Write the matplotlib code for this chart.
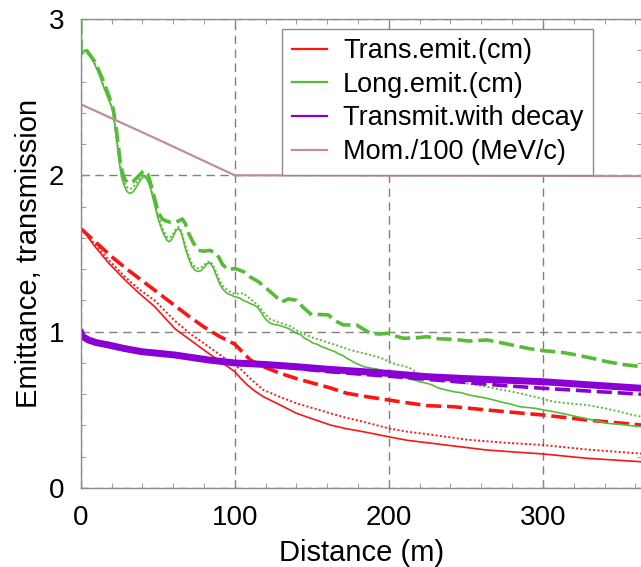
import matplotlib
matplotlib.use("Agg")
import matplotlib.pyplot as plt
from matplotlib.lines import Line2D
import numpy as np

plt.rcParams['font.family'] = ['Liberation Sans', 'DejaVu Sans']

# ---- series (distance in m, value) ----
trans_solid_x = [0, 2, 5, 9.3, 18, 28.8, 38, 48, 61, 72, 82.9, 92, 100, 104, 108, 113, 118.6, 130, 140, 151, 162, 172, 183.5, 199.7, 212, 224.7, 242, 263.6, 282, 300, 328.6, 364]
trans_solid_y = [1.66, 1.65, 1.60, 1.544, 1.44, 1.33, 1.245, 1.16, 1.02, 0.94, 0.862, 0.80, 0.744, 0.70, 0.66, 0.62, 0.584, 0.528, 0.478, 0.44, 0.403, 0.38, 0.36, 0.328, 0.305, 0.29, 0.269, 0.243, 0.23, 0.218, 0.19, 0.168]

trans_dot_x = [0, 9.3, 18, 28.8, 38, 48, 61, 72, 83, 92, 99.5, 104.5, 110, 118.6, 130, 140, 151, 162, 172, 183.5, 199.7, 212, 224.7, 250, 275, 300, 330, 364]
trans_dot_y = [1.66, 1.56, 1.46, 1.35, 1.27, 1.20, 1.07, 0.98, 0.904, 0.84, 0.787, 0.755, 0.70, 0.627, 0.58, 0.542, 0.51, 0.478, 0.45, 0.424, 0.382, 0.36, 0.345, 0.31, 0.29, 0.275, 0.245, 0.22]

trans_dash_x = [0, 10, 20, 30, 40, 50, 60, 70, 80, 90, 100, 105, 110, 120, 129.4, 140, 151, 162, 172.7, 185, 199.7, 212, 224.7, 242, 263.6, 285, 300, 328.6, 345, 364]
trans_dash_y = [1.66, 1.57, 1.48, 1.40, 1.325, 1.25, 1.175, 1.10, 1.03, 0.97, 0.92, 0.87, 0.819, 0.77, 0.734, 0.70, 0.67, 0.64, 0.606, 0.585, 0.563, 0.545, 0.527, 0.52, 0.499, 0.48, 0.467, 0.435, 0.42, 0.403]

long_solid_x = [0, 0.3, 1.5, 3, 6, 9, 11.5, 13.6, 15.5, 17.9, 20, 21.2, 23.4, 25.5, 26.5, 28, 29.5, 31, 32.5, 34, 35.5, 37, 38.5, 40, 41.5, 43, 44.5, 46, 48, 50, 52, 54, 56, 57.5, 59, 60.5, 62, 63.5, 65, 66.5, 68, 70, 72, 74, 76, 78, 80, 82, 84, 86, 88, 90, 92, 95, 100, 103, 105.6, 108, 110, 112, 114.3, 116, 118, 120, 123, 126, 129, 131.6, 135, 140, 143, 145, 148, 151, 154, 156, 159, 162, 165, 167, 170, 172.7, 175, 178, 181, 183.5, 186, 189, 192, 194.4, 197, 200, 203, 205.2, 208, 212, 216, 220, 224.7, 228, 232, 237, 242, 247, 252, 258, 263.6, 270, 275, 280, 285, 292, 296, 300.4, 305, 311, 316, 322, 327, 332, 337, 341.6, 347, 352, 358, 364]
long_solid_y = [3.0, 2.78, 2.78, 2.80, 2.77, 2.71, 2.66, 2.60, 2.55, 2.49, 2.44, 2.39, 2.22, 2.05, 1.99, 1.94, 1.905, 1.888, 1.885, 1.895, 1.915, 1.94, 1.965, 1.985, 1.99, 1.975, 1.94, 1.89, 1.81, 1.73, 1.67, 1.62, 1.585, 1.575, 1.59, 1.62, 1.65, 1.66, 1.64, 1.59, 1.53, 1.47, 1.42, 1.395, 1.385, 1.39, 1.41, 1.435, 1.44, 1.41, 1.36, 1.31, 1.275, 1.245, 1.224, 1.215, 1.20, 1.19, 1.18, 1.172, 1.16, 1.14, 1.11, 1.08, 1.054, 1.045, 1.04, 1.032, 1.02, 0.99, 0.98, 0.96, 0.945, 0.926, 0.918, 0.905, 0.895, 0.883, 0.872, 0.86, 0.848, 0.83, 0.818, 0.80, 0.788, 0.776, 0.772, 0.765, 0.762, 0.755, 0.748, 0.74, 0.735, 0.723, 0.715, 0.70, 0.692, 0.68, 0.67, 0.66, 0.64, 0.628, 0.616, 0.61, 0.595, 0.584, 0.574, 0.558, 0.545, 0.535, 0.52, 0.513, 0.508, 0.499, 0.492, 0.48, 0.47, 0.456, 0.447, 0.435, 0.425, 0.414, 0.41, 0.405, 0.398, 0.392]

long_dot_x = [0, 0.3, 3, 9, 13.6, 17.9, 21.2, 23.4, 25.5, 27, 28.5, 30, 31.5, 33, 34.5, 36, 37.5, 39, 40.5, 42, 43.5, 45, 46.5, 48, 50, 52, 54, 56, 57.5, 59, 60.5, 62, 63.5, 65, 66.5, 68, 70, 72, 74, 76, 78, 80, 82, 84, 86, 88, 90, 92, 96, 100, 105.6, 110, 115, 119, 123, 127, 131.6, 136, 140, 145, 151, 156, 162, 167, 172.7, 178, 183.5, 190, 194, 198, 202, 205, 210, 214, 219, 224.7, 235, 250, 263.6, 275, 285, 296, 307, 318, 328.6, 340, 350, 357, 364]
long_dot_y = [3.0, 2.78, 2.80, 2.72, 2.61, 2.50, 2.40, 2.24, 2.07, 2.0, 1.95, 1.925, 1.915, 1.915, 1.93, 1.95, 1.97, 1.99, 2.0, 1.995, 1.975, 1.94, 1.89, 1.82, 1.75, 1.69, 1.64, 1.605, 1.60, 1.61, 1.635, 1.66, 1.67, 1.65, 1.60, 1.55, 1.49, 1.44, 1.415, 1.405, 1.41, 1.425, 1.445, 1.45, 1.42, 1.38, 1.33, 1.295, 1.26, 1.24, 1.246, 1.21, 1.17, 1.12, 1.08, 1.065, 1.05, 1.035, 1.01, 0.985, 0.96, 0.945, 0.926, 0.91, 0.89, 0.875, 0.862, 0.845, 0.835, 0.819, 0.80, 0.79, 0.78, 0.766, 0.73, 0.705, 0.69, 0.67, 0.648, 0.625, 0.606, 0.58, 0.552, 0.54, 0.531, 0.51, 0.488, 0.47, 0.456]

long_dash_x = [0, 0.3, 3, 9, 13.6, 17.9, 21.2, 23.4, 25.5, 27, 28.8, 30.5, 32, 34, 36, 38, 40, 41.7, 43.5, 45, 46.5, 48, 50.4, 53, 55, 58, 61, 64, 66, 68, 70, 73, 76.4, 80, 84, 88, 90, 92, 95.8, 100, 105.6, 110, 115.3, 123, 130.5, 135, 140, 145, 150, 155, 160.8, 165, 170.5, 179, 187.9, 194, 199.7, 205, 209.5, 217, 224.7, 232, 242, 252, 263.6, 275, 285, 292, 300.4, 311, 322, 332, 341.6, 352, 364]
long_dash_y = [3.0, 2.78, 2.81, 2.73, 2.63, 2.52, 2.42, 2.27, 2.10, 2.02, 1.97, 1.955, 1.95, 1.96, 1.98, 2.0, 2.02, 2.03, 2.01, 1.96, 1.91, 1.85, 1.76, 1.72, 1.71, 1.70, 1.70, 1.71, 1.72, 1.69, 1.63, 1.57, 1.52, 1.515, 1.52, 1.50, 1.47, 1.43, 1.395, 1.405, 1.384, 1.35, 1.32, 1.256, 1.19, 1.21, 1.20, 1.15, 1.107, 1.11, 1.107, 1.07, 1.043, 1.043, 0.99, 0.985, 0.99, 0.97, 0.958, 0.96, 0.968, 0.955, 0.951, 0.94, 0.947, 0.925, 0.904, 0.89, 0.878, 0.87, 0.851, 0.83, 0.808, 0.79, 0.776]

transm_x = [0, 1, 5, 10, 18, 28, 39.6, 50, 61, 72, 83, 100, 120, 140, 160, 183.5, 200, 224.7, 250, 275, 300, 330, 364]
transm_solid_y = [1.0, 0.97, 0.947, 0.93, 0.915, 0.893, 0.872, 0.862, 0.851, 0.835, 0.819, 0.80, 0.79, 0.776, 0.76, 0.744, 0.733, 0.712, 0.70, 0.69, 0.68, 0.66, 0.638]
transm_dash_y = [1.0, 0.97, 0.947, 0.93, 0.915, 0.893, 0.872, 0.862, 0.851, 0.835, 0.819, 0.80, 0.787, 0.765, 0.745, 0.727, 0.715, 0.695, 0.675, 0.655, 0.638, 0.62, 0.60]

mom_x = [0, 50, 100, 150, 364]
mom_y = [2.455, 2.23, 2.0, 2.0, 1.995]

labels = ["Trans.emit.(cm)", "Long.emit.(cm)", "Transmit.with decay", "Mom./100 (MeV/c)"]

RED = "#ff1414"
GREEN = "#56bc38"
PURPLE = "#8a00d4"
BROWN = "#c09090"
GRID = "#7f7f7f"
AXC = "#8c8c8c"

fig = plt.figure(figsize=(6.41, 5.67), dpi=100)
ax = fig.add_axes([0.1259, 0.1393, 0.8749, 0.8272])

DASH = (4.2, 1.6)
DOT = (1.0, 1.2)

# transverse emittance
ax.plot(trans_solid_x, trans_solid_y, color=RED, lw=1.2)
ax.plot(trans_dot_x, trans_dot_y, color=RED, lw=1.4, dashes=DOT)
ax.plot(trans_dash_x, trans_dash_y, color=RED, lw=2.6, dashes=DASH)
# longitudinal emittance
ax.plot(long_solid_x, long_solid_y, color=GREEN, lw=1.2)
ax.plot(long_dot_x, long_dot_y, color=GREEN, lw=1.4, dashes=DOT)
ax.plot(long_dash_x, long_dash_y, color=GREEN, lw=2.6, dashes=DASH)
# transmission
ax.plot(transm_x, transm_dash_y, color=PURPLE, lw=2.6, dashes=DASH)
ax.plot(transm_x, transm_solid_y, color=PURPLE, lw=5.0, solid_capstyle='round')
# momentum
ax.plot(mom_x, mom_y, color=BROWN, lw=1.6)

ax.set_xlim(0, 364)
ax.set_ylim(0, 3)
ax.set_xticks([0, 100, 200, 300])
ax.set_yticks([0, 1, 2, 3])
ax.set_xticks(np.arange(0, 364, 20), minor=True)
ax.set_yticks(np.arange(0, 3.01, 0.2), minor=True)
ax.grid(True, which='major', color=GRID, lw=1.0, linestyle=(0, (6, 4)))

for sp in ax.spines.values():
    sp.set_color(AXC)
    sp.set_linewidth(1.0)

ax.tick_params(which='both', direction='in', top=True, right=True, color=AXC)
ax.tick_params(which='major', length=4, labelsize=20, pad=12)
ax.tick_params(which='minor', length=3.5)

ax.set_xlabel("Distance (m)", fontsize=21, labelpad=6)
ax.set_ylabel("Emittance, transmission", fontsize=21, labelpad=4)

handles = [Line2D([], [], color=c, lw=1.6) for c in (RED, GREEN, PURPLE, BROWN)]
leg = ax.legend(handles, labels, loc='upper left', bbox_to_anchor=(0.359, 0.979),
                borderaxespad=0, fontsize=19.5, fancybox=False, framealpha=1,
                edgecolor=AXC, handlelength=1.3, handletextpad=0.6,
                borderpad=0.35, labelspacing=0.28)
leg.get_frame().set_linewidth(1.0)

fig.savefig("out.png", dpi=100)
